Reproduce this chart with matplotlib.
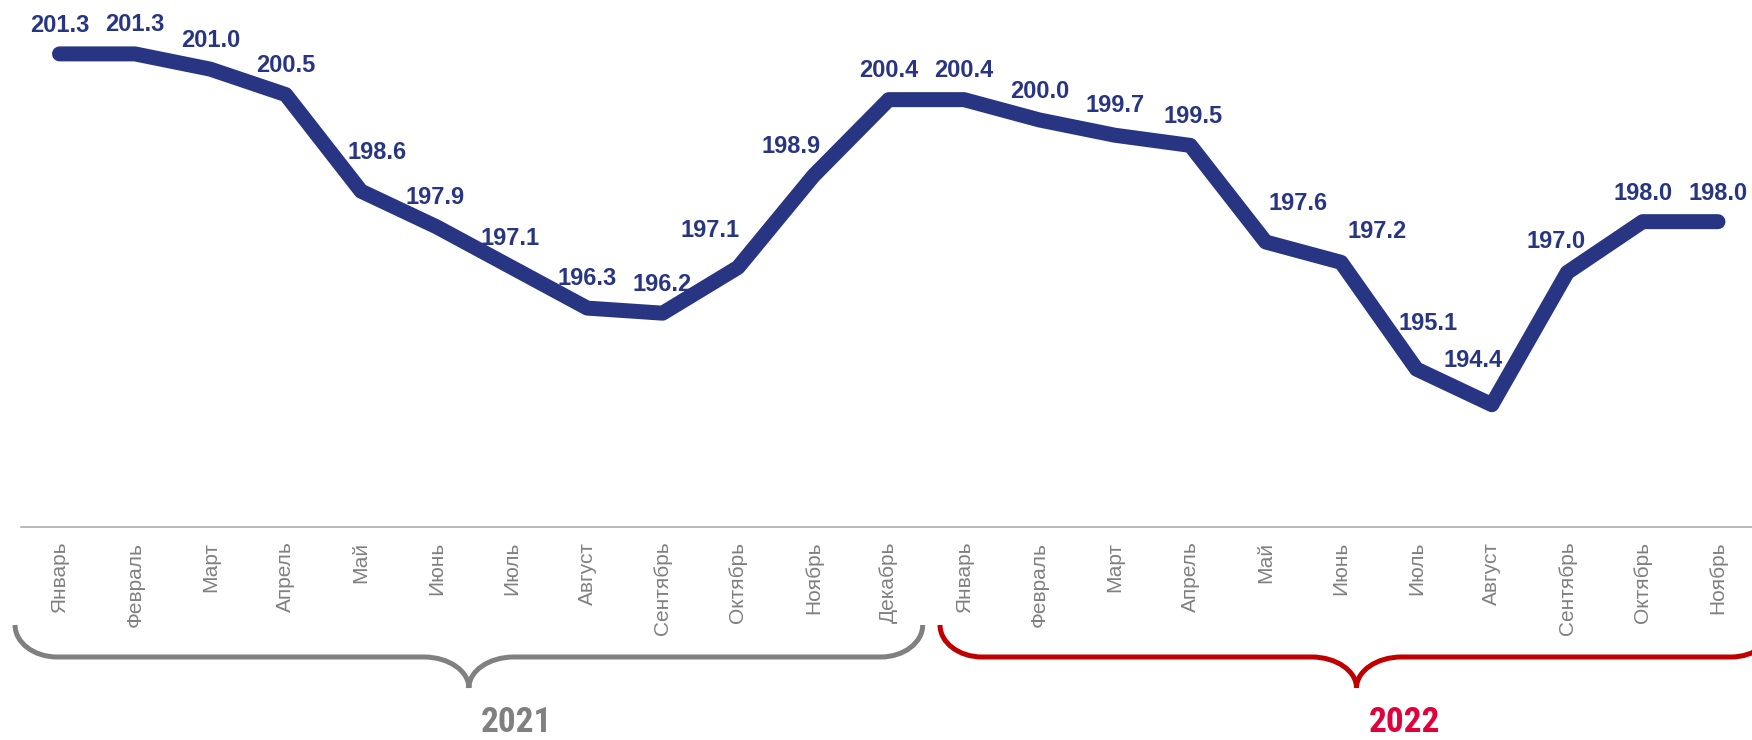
import matplotlib
matplotlib.use('Agg')
import matplotlib.pyplot as plt
from matplotlib.path import Path
from matplotlib.patches import PathPatch
from matplotlib import font_manager

# ---- data ----
months_2021 = ['Январь', 'Февраль', 'Март', 'Апрель', 'Май', 'Июнь', 'Июль',
               'Август', 'Сентябрь', 'Октябрь', 'Ноябрь', 'Декабрь']
months_2022 = ['Январь', 'Февраль', 'Март', 'Апрель', 'Май', 'Июнь', 'Июль',
               'Август', 'Сентябрь', 'Октябрь', 'Ноябрь']
values_2021 = [201.3, 201.3, 201.0, 200.5, 198.6, 197.9, 197.1, 196.3, 196.2, 197.1, 198.9, 200.4]
values_2022 = [200.4, 200.0, 199.7, 199.5, 197.6, 197.2, 195.1, 194.4, 197.0, 198.0, 198.0]
years = ['2021', '2022']

# label offsets (pixels, dx right, dy up) – styling only
label_offsets = [(0, 30), (0, 31), (0, 31), (0, 31), (16, 41), (-1, 31), (-2, 31), (0, 31),
                 (0, 31), (-28, 39), (-22, 31), (0, 31),
                 (0, 31), (0, 30), (0, 32), (3, 31), (32, 40), (36, 33), (12, 47), (-19, 46),
                 (-11, 33), (0, 30), (0, 30)]

labels = months_2021 + months_2022
values = values_2021 + values_2022
x = list(range(len(values)))

NAVY = '#283583'
GRAY = '#808080'
RED = '#C00000'
RED_TXT = '#E2003C'

avail = {f.name for f in font_manager.fontManager.ttflist}
base = 'Liberation Sans' if 'Liberation Sans' in avail else 'DejaVu Sans'
narrow_name = None
for cand in ['Liberation Sans Narrow', 'Roboto Condensed', 'Open Sans Condensed', 'DejaVu Sans Condensed']:
    if cand in avail:
        narrow_name = cand
        break
if narrow_name in ('Liberation Sans Narrow', 'Roboto Condensed', 'Open Sans Condensed'):
    year_family, year_size = [narrow_name, base], 25.5
else:
    year_family, year_size = [base], 22.5
plt.rcParams['font.family'] = [base, 'DejaVu Sans']

W, H = 1752, 740
fig = plt.figure(figsize=(W / 100, H / 100), dpi=100)
axis_y = 526.7
ax = fig.add_axes([21 / W, 1 - axis_y / H, (W - 21) / W, axis_y / H])

ax.plot(x, values, color=NAVY, lw=10.8, solid_capstyle='round', solid_joinstyle='round', zorder=3)

ax.set_xlim(-0.511, 22.451)
ax.set_ylim(192.0, 202.36)

for xi, v, (dx, dy) in zip(x, values, label_offsets):
    ax.annotate(f'{v:.1f}', (xi, v), xytext=(dx, dy - 8.4), textcoords='offset pixels',
                ha='center', va='baseline', fontsize=17, fontweight='bold', color=NAVY, zorder=4)

ax.set_xticks(x)
ax.set_xticklabels(labels, rotation=90, fontsize=15, color=GRAY)
ax.tick_params(axis='x', length=0, pad=10.8)
ax.set_yticks([])
for s in ['top', 'left', 'right']:
    ax.spines[s].set_visible(False)
ax.spines['bottom'].set_color('#A6A6A6')
ax.spines['bottom'].set_linewidth(1.1)
ax.patch.set_alpha(0)

# ---- braces in pixel overlay ----
bax = fig.add_axes([0, 0, 1, 1], zorder=-1)
bax.set_xlim(0, W)
bax.set_ylim(H, 0)
bax.axis('off')

fig.canvas.draw()


def px(idx):
    return ax.transData.transform((idx, 195))[0]


def brace(x0, x1, color, ytop=625, ybar=657, ytip=688, rx=42, rx2=45):
    k = 0.5523
    ry = ybar - ytop
    ry2 = ytip - ybar
    xc = (x0 + x1) / 2
    verts = [(x0, ytop), (x0, ytop + k * ry), (x0 + rx - k * rx, ybar), (x0 + rx, ybar),
             (xc - rx2, ybar),
             (xc - rx2 + k * rx2, ybar), (xc, ytip - k * ry2), (xc, ytip),
             (xc, ytip - k * ry2), (xc + rx2 - k * rx2, ybar), (xc + rx2, ybar),
             (x1 - rx, ybar),
             (x1 - rx + k * rx, ybar), (x1, ytop + k * ry), (x1, ytop)]
    codes = [Path.MOVETO] + [Path.CURVE4] * 3 + [Path.LINETO] + [Path.CURVE4] * 6 + \
            [Path.LINETO] + [Path.CURVE4] * 3
    bax.add_patch(PathPatch(Path(verts, codes), fill=False, ec=color, lw=3.6, capstyle='butt'))
    return xc


xc1 = brace(px(-0.59), px(11.45), GRAY)
xc2 = brace(px(11.68), px(22.73), RED)

bax.text(xc1 + 48, 739, years[0], ha='center', va='bottom', fontsize=year_size,
         fontweight='bold', color=GRAY, family=year_family)
bax.text(xc2 + 48, 739, years[1], ha='center', va='bottom', fontsize=year_size,
         fontweight='bold', color=RED_TXT, family=year_family)

fig.savefig('out.png', dpi=100)
